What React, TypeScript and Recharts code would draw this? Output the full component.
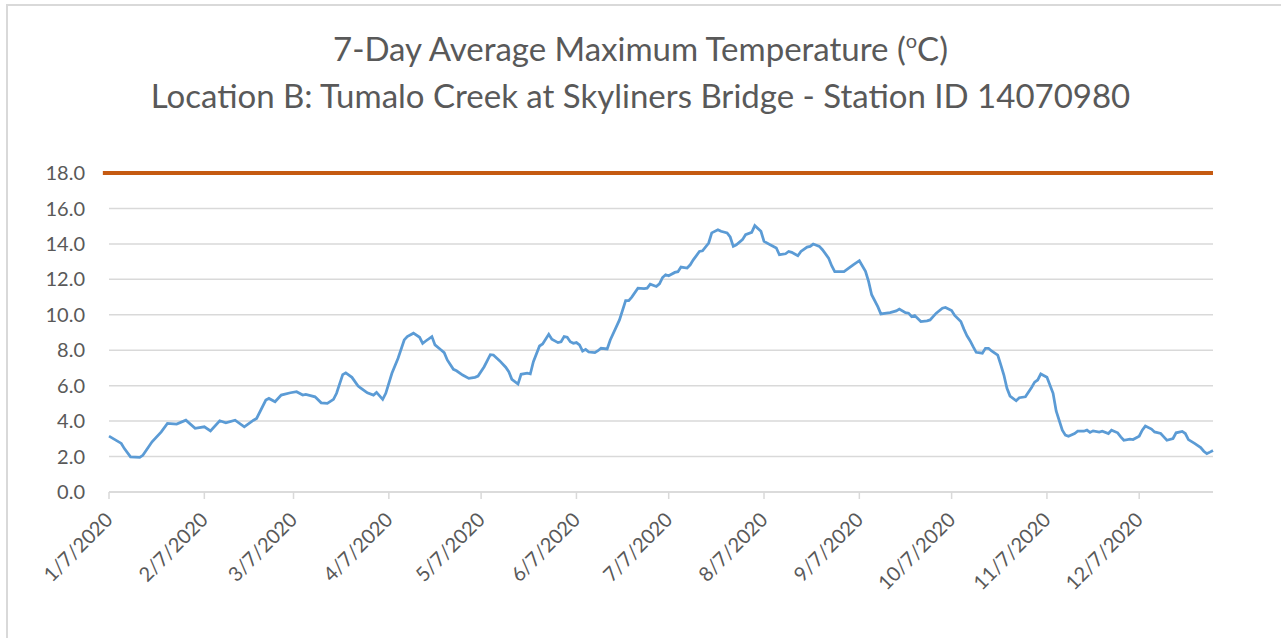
import { LineChart, Line, XAxis, YAxis, CartesianGrid, ReferenceLine } from 'recharts';

// Days since 1/7/2020 and the 7-day average max temperature
const sampleDay = [
  0, 4, 5, 7, 10, 11, 14, 17, 19, 22, 25, 28, 31, 33, 36, 38, 41, 44, 47, 48,
  51, 52, 54, 56, 59, 61, 63, 64, 67, 69, 71, 73, 74, 76, 77, 79, 81, 82, 84, 86,
  87, 89, 90, 92, 94, 96, 97, 99, 101, 102, 103, 105, 106, 108, 109, 110, 112, 113, 115, 117,
  119, 120, 122, 124, 125, 127, 129, 130, 131, 133, 134, 136, 137, 138, 140, 141, 143, 144, 146, 147,
  148, 149, 150, 151, 152, 153, 154, 155, 156, 158, 159, 160, 162, 163, 165, 166, 168, 169, 170, 172,
  174, 175, 176, 178, 179, 180, 181, 182, 184, 185, 186, 188, 189, 190, 192, 193, 195, 196, 198, 199,
  201, 202, 203, 204, 206, 207, 209, 210, 212, 213, 215, 217, 218, 220, 221, 222, 224, 225, 227, 228,
  229, 231, 232, 234, 235, 236, 239, 241, 242, 244, 246, 247, 248, 250, 251, 254, 256, 257, 259, 260,
  261, 262, 264, 266, 267, 269, 271, 272, 274, 275, 277, 278, 279, 280, 281, 282, 284, 285, 286, 287,
  289, 290, 291, 292, 293, 295, 296, 298, 300, 301, 302, 303, 305, 307, 308, 310, 311, 312, 314, 315,
  317, 318, 319, 320, 322, 323, 325, 326, 328, 329, 330, 332, 333, 335, 336, 337, 339, 340, 342, 343,
  344, 346, 347, 349, 350, 351, 353, 355, 356, 357, 358, 359,
];

const maxTempC = [
  3.15, 2.74, 2.45, 1.98, 1.95, 2.07, 2.83, 3.39, 3.87, 3.83, 4.05, 3.59, 3.68, 3.45, 4.02, 3.9, 4.05, 3.68, 4.05, 4.15,
  5.19, 5.28, 5.09, 5.47, 5.6, 5.66, 5.47, 5.51, 5.37, 5.03, 5.0, 5.23, 5.57, 6.62, 6.72, 6.47, 5.98, 5.85, 5.6, 5.47,
  5.62, 5.23, 5.57, 6.7, 7.55, 8.58, 8.77, 8.96, 8.73, 8.39, 8.52, 8.77, 8.3, 8.01, 7.86, 7.45, 6.92, 6.84, 6.6, 6.41,
  6.47, 6.54, 7.07, 7.75, 7.73, 7.41, 7.04, 6.79, 6.36, 6.09, 6.64, 6.7, 6.66, 7.35, 8.24, 8.35, 8.9, 8.62, 8.43, 8.48,
  8.77, 8.73, 8.48, 8.39, 8.43, 8.3, 7.95, 8.05, 7.9, 7.86, 7.97, 8.11, 8.07, 8.58, 9.33, 9.71, 10.8, 10.8, 11.0, 11.5,
  11.48, 11.5, 11.73, 11.6, 11.74, 12.1, 12.26, 12.2, 12.39, 12.43, 12.69, 12.64, 12.82, 13.1, 13.57, 13.61, 14.05, 14.62, 14.8, 14.71,
  14.62, 14.39, 13.86, 13.95, 14.24, 14.52, 14.65, 15.03, 14.71, 14.14, 13.95, 13.77, 13.39, 13.44, 13.57, 13.52, 13.33, 13.57, 13.82, 13.86,
  13.99, 13.86, 13.67, 13.2, 12.77, 12.44, 12.44, 12.69, 12.82, 13.05, 12.45, 11.88, 11.13, 10.46, 10.05, 10.12, 10.22, 10.32, 10.12, 10.09,
  9.9, 9.96, 9.62, 9.66, 9.71, 10.09, 10.37, 10.41, 10.24, 9.96, 9.62, 9.19, 8.81, 8.54, 8.2, 7.88, 7.83, 8.11, 8.11, 7.96,
  7.73, 7.17, 6.6, 5.85, 5.41, 5.15, 5.32, 5.37, 5.9, 6.2, 6.32, 6.66, 6.48, 5.57, 4.57, 3.49, 3.21, 3.15, 3.3, 3.43,
  3.43, 3.49, 3.36, 3.45, 3.38, 3.43, 3.3, 3.49, 3.34, 3.11, 2.92, 2.98, 2.96, 3.15, 3.49, 3.72, 3.55, 3.39, 3.3, 3.11,
  2.92, 3.02, 3.34, 3.42, 3.3, 2.96, 2.74, 2.51, 2.3, 2.17, 2.25, 2.34,
];

// state criterion drawn as the orange line
const criterionTempC = 18;

const monthTickDays = [0, 31, 60, 91, 121, 152, 182, 213, 244, 274, 305, 335];
const monthTickLabels = [
  '1/7/2020', '2/7/2020', '3/7/2020', '4/7/2020', '5/7/2020', '6/7/2020',
  '7/7/2020', '8/7/2020', '9/7/2020', '10/7/2020', '11/7/2020', '12/7/2020',
];
const tempTicks = [0, 2, 4, 6, 8, 10, 12, 14, 16, 18];

const chartData = sampleDay.map((day, i) => ({ day, temp: maxTempC[i] }));

const textColor = '#595959';
const font = 'Lato, "Open Sans", sans-serif';

const DateTick = (props: any) => {
  const { x, y, payload } = props;
  const label = monthTickLabels[monthTickDays.indexOf(payload.value)];
  const tx = x + 5;
  const ty = y + 20;
  return (
    <text
      x={tx}
      y={ty}
      transform={`rotate(-45, ${tx}, ${ty})`}
      textAnchor="end"
      fill={textColor}
      fontSize={20}
      fontFamily={font}
    >
      {label}
    </text>
  );
};

const titleLine = (top: number): React.CSSProperties => ({
  position: 'absolute',
  left: 0,
  width: 1281,
  top,
  textAlign: 'center',
  color: textColor,
  fontSize: 33,
  lineHeight: '40px',
  whiteSpace: 'nowrap',
});

export default function App() {
  return (
    <div
      style={{
        position: 'absolute',
        left: 0,
        top: 0,
        width: 1281,
        height: 638,
        overflow: 'hidden',
        background: '#fff',
        fontFamily: font,
      }}
    >
      <div
        style={{
          position: 'absolute',
          left: 6,
          top: 4,
          width: 1300,
          height: 700,
          border: '2px solid #D9D9D9',
        }}
      />
      <div style={titleLine(28)}>
        7-Day Average Maximum Temperature (
        <sup style={{ fontSize: 20, verticalAlign: 'top', position: 'relative', top: -8 }}>o</sup>C)
      </div>
      <div style={titleLine(75)}>Location B: Tumalo Creek at Skyliners Bridge - Station ID 14070980</div>
      <div style={{ position: 'absolute', left: 0, top: 0 }}>
        <LineChart
          width={1281}
          height={638}
          data={chartData}
          margin={{ top: 173, right: 68, bottom: 0, left: 0 }}
        >
          <CartesianGrid horizontal vertical={false} stroke="#D9D9D9" strokeWidth={1.5} />
          <XAxis
            dataKey="day"
            type="number"
            domain={[0, 359]}
            ticks={monthTickDays}
            interval={0}
            tick={<DateTick />}
            tickSize={7}
            tickLine={{ stroke: '#D9D9D9', strokeWidth: 1.5 }}
            axisLine={{ stroke: '#D9D9D9', strokeWidth: 1.5 }}
            height={146}
          />
          <YAxis
            type="number"
            domain={[0, 18]}
            ticks={tempTicks}
            interval={0}
            width={109}
            tickFormatter={(v: number) => v.toFixed(1)}
            tickLine={false}
            axisLine={false}
            tickMargin={18}
            tick={{ fill: textColor, fontSize: 20, fontFamily: font }}
          />
          <ReferenceLine
            segment={[{ x: -2, y: criterionTempC }, { x: 359, y: criterionTempC }]}
            ifOverflow="visible"
            stroke="#C55A11"
            strokeWidth={4}
          />
          <Line
            type="linear"
            dataKey="temp"
            stroke="#5B9BD5"
            strokeWidth={2.75}
            dot={false}
            isAnimationActive={false}
          />
        </LineChart>
      </div>
    </div>
  );
}
